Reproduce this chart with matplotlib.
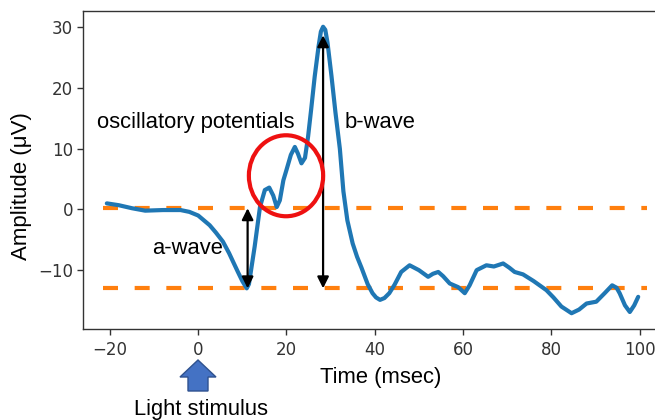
import matplotlib
matplotlib.use("Agg")
import matplotlib.pyplot as plt
from matplotlib.patches import Ellipse, Polygon

# ---- data ----
time_ms = [-20.7, -18, -15, -12, -8, -4, -2, 0, 2.6, 4, 5.6, 7, 7.9, 9, 10, 11, 11.5,
           12.8, 14.0, 15.1, 16.1, 17, 17.8, 18.5, 19.3, 20, 21, 21.9, 22.6, 23.4, 24.2,
           24.9, 25.6, 26.4, 27.3, 27.8, 28.3, 28.8, 29.3, 30.2, 31.1, 32.1, 32.9, 33.8,
           35, 36, 37, 38.4, 39.5, 40.3, 41.2, 42.2, 43.3, 44.5, 46, 47.9, 50, 52.1,
           53.2, 54.4, 55.5, 57, 58.9, 60.4, 61.5, 63.1, 65.3, 67.0, 69.1, 70.5, 71.7,
           73.6, 76, 78.9, 80.5, 82.3, 84.6, 86.3, 88, 90.2, 92.1, 93.8, 94.8, 95.5,
           96.7, 97.8, 98.8, 99.7]
amplitude = [1.0, 0.7, 0.2, -0.2, -0.1, -0.1, -0.4, -1.0, -2.6, -3.8, -5.3, -7.2, -8.6,
             -10.3, -11.8, -13.0, -12.3, -6.1, 0.4, 3.2, 3.6, 2.3, 0.4, 1.5, 4.8, 6.5,
             9.0, 10.3, 9.2, 7.6, 8.5, 12.0, 16.5, 21.9, 27.0, 29.3, 30.1, 29.6, 27.5,
             22.0, 16.0, 10.0, 3.0, -1.8, -5.6, -7.8, -9.6, -12.3, -13.8, -14.5, -14.9,
             -14.6, -13.8, -12.4, -10.3, -9.2, -10.0, -11.1, -10.6, -10.3, -11.0, -12.2,
             -12.8, -13.8, -12.5, -10.0, -9.2, -9.4, -8.9, -9.6, -10.3, -10.7, -11.8,
             -13.3, -14.5, -16.0, -17.1, -16.5, -15.5, -15.2, -13.8, -12.5, -12.9,
             -13.8, -15.8, -16.9, -15.8, -14.4]

baseline_level = 0.3
awave_level = -13.0
dash_span = [-21.6, 101.6]

awave_x, awave_top, awave_bottom = 11.2, 0.2, -13.0
bwave_x, bwave_top, bwave_bottom = 28.3, 28.7, -13.0

xticks = [-20, 0, 20, 40, 60, 80, 100]
yticks = [-10, 0, 10, 20, 30]

W, H = 655, 420
fig = plt.figure(figsize=(W / 100, H / 100), dpi=100)
ax = fig.add_axes([83 / W, 1 - 329 / H, (666 - 83) / W, 318 / H])
ax.set_xlim(-26.1, 106)
ax.set_ylim(-19.7, 32.7)

for sp in ax.spines.values():
    sp.set_color('#333333')
    sp.set_linewidth(1.0)

ax.set_xticks(xticks)
ax.set_yticks(yticks)
ax.tick_params(labelsize=12, colors='#333333', length=4.5, width=1)
ax.tick_params(axis='x', pad=4)
ax.tick_params(axis='y', pad=2.5)

ax.plot(time_ms, amplitude, color='#1f77b4', lw=3, solid_joinstyle='round',
        solid_capstyle='round', zorder=3)

for lvl in (baseline_level, awave_level):
    ax.plot(dash_span, [lvl, lvl], color='#ff7f0e', lw=3, linestyle=(0, (3.6, 4.0)),
            zorder=2)

arrow_kw = dict(arrowstyle='<|-|>', color='black', lw=1.6, mutation_scale=17,
                shrinkA=0, shrinkB=0)
ax.annotate('', xy=(awave_x, awave_top), xytext=(awave_x, awave_bottom),
            arrowprops=arrow_kw, zorder=4)
ax.annotate('', xy=(bwave_x, bwave_top), xytext=(bwave_x, bwave_bottom),
            arrowprops=arrow_kw, zorder=4)

ax.add_patch(Ellipse((19.9, 5.55), width=74.3 / 4.415, height=81 / 6.07,
                     fill=False, edgecolor='#ee1111', lw=3, zorder=5))

txt = dict(family=['Liberation Sans', 'DejaVu Sans'], color='black')
ax.text(-22.9, 14.4, 'oscillatory potentials', fontsize=15.8, va='center', ha='left', **txt)
ax.text(33.2, 14.4, 'b-wave', fontsize=15.8, va='center', ha='left', **txt)
ax.text(-2.3, -6.4, 'a-wave', fontsize=15.8, va='center', ha='center', **txt)

fig.text(381 / W, 1 - 378 / H, 'Time (msec)', fontsize=15.8, ha='center', va='center', **txt)
fig.text(201.5 / W, 1 - 410 / H, 'Light stimulus', fontsize=15.8, ha='center', va='center', **txt)
fig.text(22 / W, 1 - 186 / H, 'Amplitude (μV)', fontsize=16, ha='center', va='center',
         rotation=90, **txt)

# blue block arrow (light stimulus marker)
pts = [(198, 360), (216, 377), (208, 377), (208, 391), (188, 391), (188, 377), (180, 377)]
arrow = Polygon([(px / W, 1 - py / H) for px, py in pts], closed=True,
                transform=fig.transFigure, facecolor='#4472C4', edgecolor='#2F528F', lw=1)
fig.patches.append(arrow)

fig.savefig('out.png', dpi=100)
